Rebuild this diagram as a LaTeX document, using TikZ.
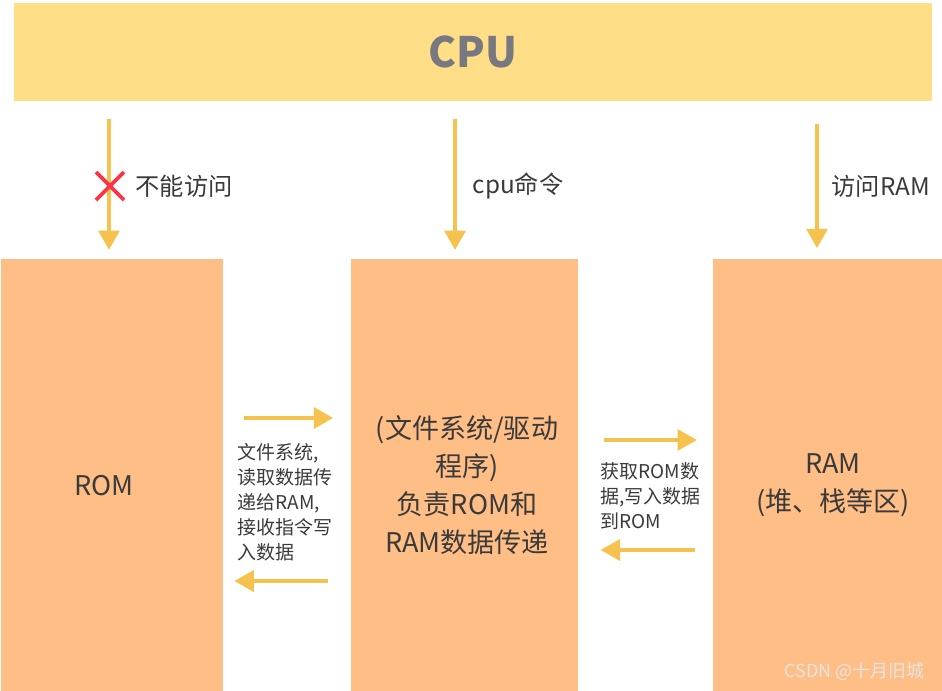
\documentclass[tikz,border=0pt]{standalone}
\usepackage{fontspec}
\newfontfamily\cjk{Noto Sans CJK SC}
\definecolor{cpuyellow}{RGB}{255, 222, 135}
\definecolor{memorange}{RGB}{255, 190, 134}
\definecolor{flowyellow}{RGB}{246, 194, 78}
\definecolor{crossred}{RGB}{255, 51, 71}
\definecolor{textgray}{RGB}{58, 58, 58}
\definecolor{cpugray}{RGB}{119, 120, 128}
\usepackage{tikz}
\usetikzlibrary{arrows.meta, positioning}

\begin{document}
\begin{tikzpicture}[
        x=0.01cm, y=-0.01cm,
        every node/.style={font=\cjk, text=textgray, inner sep=0pt},
        memblock/.style={fill=memorange, minimum height=4.32cm, anchor=north west},
        downarrow/.style={draw=flowyellow, line width=0.9pt, -{Triangle[width=6pt, length=5.5pt]}, shorten <=4.8pt, shorten >=2.3pt},
        sidearrow/.style={draw=flowyellow, line width=0.9pt, -{Triangle[width=6pt, length=5.5pt]}},
        bigtext/.style={font=\cjk\fontsize{7.7}{10.8}\selectfont, align=center},
        smalltext/.style={font=\cjk\fontsize{5.4}{7.1}\selectfont, align=left, anchor=west}
    ]
        \useasboundingbox (0,0) rectangle (942,690);

        % cpu bar
        \node[fill=cpuyellow, minimum width=9.18cm, minimum height=0.98cm, text=cpugray,
              font=\cjk\bfseries\fontsize{11.9}{14}\selectfont] (cpu) at (473,52) {CPU};

        % memory blocks
        \node[memblock, minimum width=2.22cm] (rom) at (0,258) {};
        \node[memblock, minimum width=2.27cm] (mid) at (350,258) {};
        \node[memblock, minimum width=2.30cm] (ram) at (712,258) {};

        \node[bigtext] (romtxt) at (104,486) {ROM};
        \node[bigtext] (midtxt) at (467,485) {(文件系统/驱动\\程序)\\负责ROM和\\RAM数据传递};
        \node[bigtext] (ramtxt) at (833,485) {RAM\\(堆、栈等区)};

        % cpu access
        \draw[downarrow] (cpu.south -| 109,0) -- (rom.north -| 109,0);
        \draw[downarrow] (cpu.south -| 455,0) -- (mid.north -| 455,0);
        \draw[downarrow, shorten <=6.2pt, shorten >=2.8pt] (cpu.south -| 817,0) -- (ram.north -| 817,0);

        \draw[crossred, line width=1.1pt] (96,172) -- (124,200) (96,200) -- (124,172);
        \node[font=\cjk\fontsize{6.9}{8}\selectfont, anchor=west] (noaccess) at (135,186) {不能访问};
        \node[font=\cjk\fontsize{6.9}{8}\selectfont, anchor=west] (cpucmd) at (472,186) {cpu命令};
        \node[font=\cjk\fontsize{6.9}{8}\selectfont, anchor=west] (ramaccess) at (831,186) {访问RAM};

        % data transfer
        \draw[sidearrow, shorten <=5.7pt, shorten >=4.8pt] (rom.east |- 0,418) -- (mid.west |- 0,418);
        \draw[sidearrow, shorten <=6.3pt, shorten >=3.1pt] (mid.west |- 0,581) -- (rom.east |- 0,581);
        \node[smalltext] (romlink) at (237,502) {文件系统,\\读取数据传\\递给RAM,\\接收指令写\\入数据};

        \draw[sidearrow, shorten <=7.1pt, shorten >=4.3pt] (mid.east |- 0,440) -- (ram.west |- 0,440);
        \draw[sidearrow, shorten <=4.8pt, shorten >=6.3pt] (ram.west |- 0,550) -- (mid.east |- 0,550);
        \node[smalltext] (ramlink) at (600,496) {获取ROM数\\据,写入数据\\到ROM};

        \node[font=\cjk\fontsize{5.1}{6}\selectfont, text=white!80!gray, anchor=east] (mark) at (925,671) {CSDN @十月旧城};
    \end{tikzpicture}
\end{document}
